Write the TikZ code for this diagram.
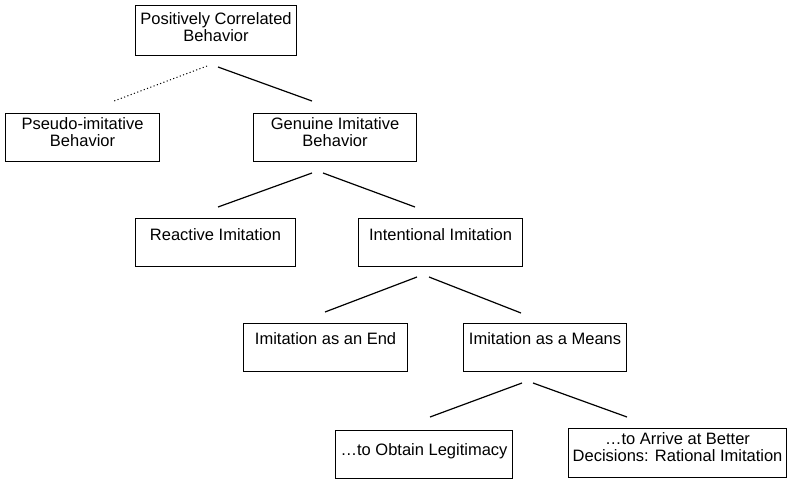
\documentclass[tikz,border=0pt]{standalone}
\usepackage{fontspec}
\setmainfont{Liberation Sans}
\usetikzlibrary{calc}
\tikzset{
  box/.style={draw=black, line width=1.1pt, inner sep=0pt, anchor=north west},
  txt/.style={inner sep=0pt, anchor=north, align=center, font=\fontsize{16.5}{17.5}\selectfont},
  link/.style={line width=1.2pt},
  dotlink/.style={line width=1pt, dash pattern=on 1.1pt off 2.4pt}
}
\begin{document}
\begin{tikzpicture}[x=1pt,y=-1pt]
\useasboundingbox (0,0) rectangle (791,479);
% boxes
\node[box, minimum width=161pt, minimum height=50pt] (b1) at (135,5) {};
\node[box, minimum width=154pt, minimum height=48pt] (b2) at (5,113) {};
\node[box, minimum width=163pt, minimum height=48pt] (b3) at (253,113) {};
\node[box, minimum width=160pt, minimum height=48pt] (b4) at (135,218) {};
\node[box, minimum width=164pt, minimum height=48pt] (b5) at (358,218) {};
\node[box, minimum width=164pt, minimum height=48pt] (b6) at (243,323) {};
\node[box, minimum width=163pt, minimum height=48pt] (b7) at (463,323) {};
\node[box, minimum width=177pt, minimum height=48pt] (b8) at (335,430) {};
\node[box, minimum width=218pt, minimum height=49pt] (b9) at (568,428) {};
% texts
\node[txt] (t1) at ($(b1.north)+(0,7)$) {Positively Correlated\\Behavior};
\node[txt] (t2) at ($(b2.north)+(0,4)$) {Pseudo-imitative\\Behavior};
\node[txt] (t3) at ($(b3.north)+(0,4)$) {Genuine Imitative\\Behavior};
\node[txt] (t4) at ($(b4.north)+(0,10)$) {Reactive Imitation};
\node[txt] (t5) at ($(b5.north)+(0,10)$) {Intentional Imitation};
\node[txt] (t6) at ($(b6.north)+(0,9)$) {Imitation as an End};
\node[txt] (t7) at ($(b7.north)+(0,9)$) {Imitation as a Means};
\node[txt] (t8) at ($(b8.north)+(0,13)$) {\ldots to Obtain Legitimacy};
\node[txt] (t9) at ($(b9.north)+(0,4)$) {\ldots to Arrive at Better\\Decisions: Rational Imitation};
% connector end points
\coordinate (p1a) at (207,66);  \coordinate (p1b) at (114,101);
\coordinate (p2a) at (218,67);  \coordinate (p2b) at (312,101);
\coordinate (p3a) at (312,173); \coordinate (p3b) at (218,207);
\coordinate (p4a) at (323,173); \coordinate (p4b) at (415,207);
\coordinate (p5a) at (417,277); \coordinate (p5b) at (325,312);
\coordinate (p6a) at (429,277); \coordinate (p6b) at (521,313);
\coordinate (p7a) at (522,383); \coordinate (p7b) at (430,417);
\coordinate (p8a) at (533,383); \coordinate (p8b) at (627,417);
% connectors
\draw[dotlink] (p1a) -- (p1b);
\draw[link] (p2a) -- (p2b);
\draw[link] (p3a) -- (p3b);
\draw[link] (p4a) -- (p4b);
\draw[link] (p5a) -- (p5b);
\draw[link] (p6a) -- (p6b);
\draw[link] (p7a) -- (p7b);
\draw[link] (p8a) -- (p8b);
\end{tikzpicture}
\end{document}
